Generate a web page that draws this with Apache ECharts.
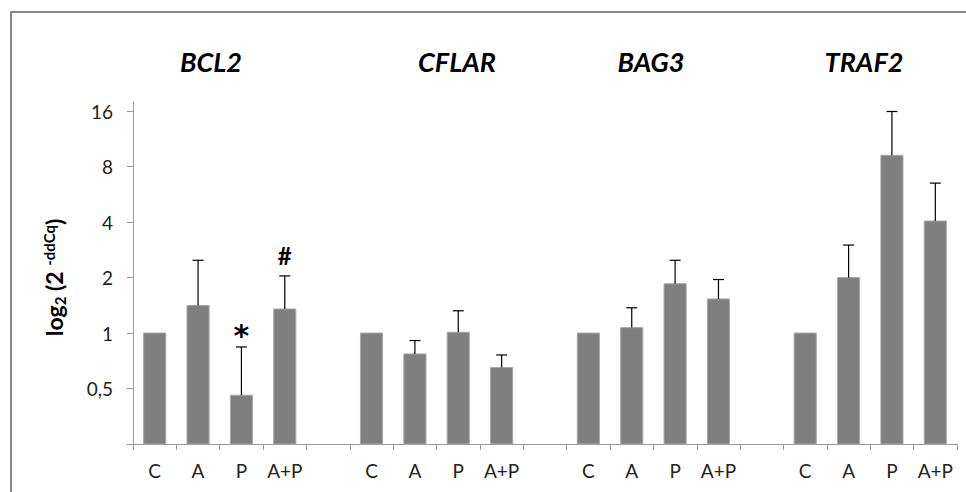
<!DOCTYPE html>
<html>
<head>
<meta charset="utf-8">
<script src="https://cdn.jsdelivr.net/npm/echarts@6/dist/echarts.min.js"></script>
<style>html,body{margin:0;padding:0;background:#fff;}#c{width:966px;height:492px;}</style>
</head>
<body>
<div id="c"></div>
<script>
// ---- data ----
const genes = ['BCL2', 'CFLAR', 'BAG3', 'TRAF2'];
const groups = ['C', 'A', 'P', 'A+P'];
const bcl2 = [1, 1.41, 0.46, 1.35];
const cflar = [1, 0.77, 1.01, 0.65];
const bag3 = [1, 1.07, 1.85, 1.53];
const traf2 = [1, 2.0, 9.2, 4.05];
const bcl2Err = [null, 2.48, 0.84, 2.04];
const cflarErr = [null, 0.91, 1.32, 0.76];
const bag3Err = [null, 1.37, 2.48, 1.95];
const traf2Err = [null, 3.0, 15.9, 6.5];
const bcl2Mark = ['', '', '*', '#'];
const cflarMark = ['', '', '', ''];
const bag3Mark = ['', '', '', ''];
const traf2Mark = ['', '', '', ''];
const yTicks = [0.25, 0.5, 1, 2, 4, 8, 16];

// ---- build flat category list with gaps ----
const valueSets = [bcl2, cflar, bag3, traf2];
const errSets = [bcl2Err, cflarErr, bag3Err, traf2Err];
const markSets = [bcl2Mark, cflarMark, bag3Mark, traf2Mark];
const categories = [], values = [], errs = [], marks = [];
valueSets.forEach((vs, g) => {
  if (g > 0) { categories.push(''); values.push(null); errs.push(null); marks.push(''); }
  groups.forEach((name, k) => {
    categories.push(name); values.push(vs[k]); errs.push(errSets[g][k]); marks.push(markSets[g][k]);
  });
});
const yMin = yTicks[0], yMax = yTicks[yTicks.length - 1];
const barData = values.map((v, i) => [i, v]);
const errData = values.map((v, i) => [i, v, errs[i]]);

const FONT = 'Lato, "Noto Sans", sans-serif';
const titleX = [211, 457, 651, 864];

const chart = echarts.init(document.getElementById('c'), null, { renderer: 'svg' });
chart.setOption({
  animation: false,
  backgroundColor: '#fff',
  grid: [
    { left: 133, right: 9, top: 111, bottom: 48 },
    { left: 133, width: 1, top: 102, bottom: 48 }
  ],
  graphic: [
    { type: 'rect', shape: { x: 11, y: 12, width: 1000, height: 520 }, style: { fill: 'none', stroke: '#878787', lineWidth: 2 }, silent: true, z: -1 }
  ].concat(genes.map((g, i) => ({
    type: 'text', x: titleX[i], y: 61,
    style: { text: g, fill: '#000', font: 'italic bold 27px ' + FONT, textAlign: 'center', textVerticalAlign: 'middle' }
  }))),
  xAxis: [
    {
      type: 'category', gridIndex: 0, data: categories, boundaryGap: true,
      axisLine: { onZero: false, lineStyle: { color: '#9a9a9a', width: 1 } },
      axisTick: { show: true, alignWithLabel: false, length: 6, lineStyle: { color: '#9a9a9a' } },
      axisLabel: { interval: 0, margin: 17, color: '#222', fontSize: 19, fontFamily: FONT },
      splitLine: { show: false }
    },
    { type: 'value', gridIndex: 1, show: false }
  ],
  yAxis: [
    {
      type: 'log', logBase: 2, gridIndex: 0, min: yMin, max: yMax,
      axisLine: { show: false },
      axisTick: { show: true, length: 6, lineStyle: { color: '#9a9a9a' } },
      splitLine: { show: false },
      axisLabel: {
        margin: 20, color: '#222', fontSize: 19, fontFamily: FONT,
        formatter: function (v) {
          const r = Math.round(v * 1000) / 1000;
          if (r < 0.3) return '';
          return String(r).replace('.', ',');
        }
      },
      name: '{b|log}{sub|2}{b| (2 }{sup|-ddCq}{b|)}',
      nameLocation: 'middle', nameRotate: 90, nameGap: 64,
      nameTextStyle: {
        rich: {
          b: { fontSize: 23, fontWeight: 'bold', fontFamily: FONT, color: '#000', lineHeight: 30, verticalAlign: 'middle' },
          sub: { fontSize: 15, fontWeight: 'bold', fontFamily: FONT, color: '#000', lineHeight: 30, verticalAlign: 'bottom', padding: [0, 0, 2, 0] },
          sup: { fontSize: 15, fontWeight: 'bold', fontFamily: FONT, color: '#000', lineHeight: 30, verticalAlign: 'top', padding: [2, 0, 0, 0] }
        }
      }
    },
    {
      type: 'value', gridIndex: 1, min: 0, max: 1,
      axisLine: { show: true, lineStyle: { color: '#9a9a9a', width: 1 } },
      axisTick: { show: false }, axisLabel: { show: false }, splitLine: { show: false }
    }
  ],
  series: [
    {
      type: 'custom', name: 'bars', xAxisIndex: 0, yAxisIndex: 0, data: barData,
      renderItem: function (params, api) {
        const v = api.value(1);
        if (v == null || isNaN(v)) return;
        const i = api.value(0);
        const top = api.coord([i, v]);
        const base = api.coord([i, yMin]);
        const w = api.size([1, 0])[0] * 0.51;
        return {
          type: 'rect',
          shape: { x: top[0] - w / 2, y: top[1], width: w, height: base[1] - top[1] },
          style: { fill: '#7f7f7f', stroke: '#a8a8a8', lineWidth: 1 }
        };
      }
    },
    {
      type: 'custom', name: 'errors', xAxisIndex: 0, yAxisIndex: 0, data: errData, z: 3,
      renderItem: function (params, api) {
        const v = api.value(1), e = api.value(2);
        if (v == null || isNaN(v) || e == null || isNaN(e)) return;
        const i = api.value(0);
        const p0 = api.coord([i, v]);
        const p1 = api.coord([i, e]);
        const cap = 5.5;
        const children = [
          { type: 'line', shape: { x1: p0[0], y1: p0[1], x2: p1[0], y2: p1[1] }, style: { stroke: '#000', lineWidth: 1.2 } },
          { type: 'line', shape: { x1: p1[0] - cap, y1: p1[1], x2: p1[0] + cap, y2: p1[1] }, style: { stroke: '#000', lineWidth: 1.2 } }
        ];
        const m = marks[params.dataIndex];
        if (m === '*') {
          children.push({
            type: 'text', x: p1[0], y: p1[1] - 11,
            style: { text: m, fill: '#000', font: 'bold 30px "DejaVu Sans", sans-serif', textAlign: 'center', textVerticalAlign: 'middle' }
          });
        } else if (m) {
          children.push({
            type: 'text', x: p1[0], y: p1[1] - 20,
            style: { text: m, fill: '#000', font: 'bold 24px ' + FONT, textAlign: 'center', textVerticalAlign: 'middle' }
          });
        }
        return { type: 'group', children: children };
      }
    }
  ]
});
</script>
</body>
</html>
